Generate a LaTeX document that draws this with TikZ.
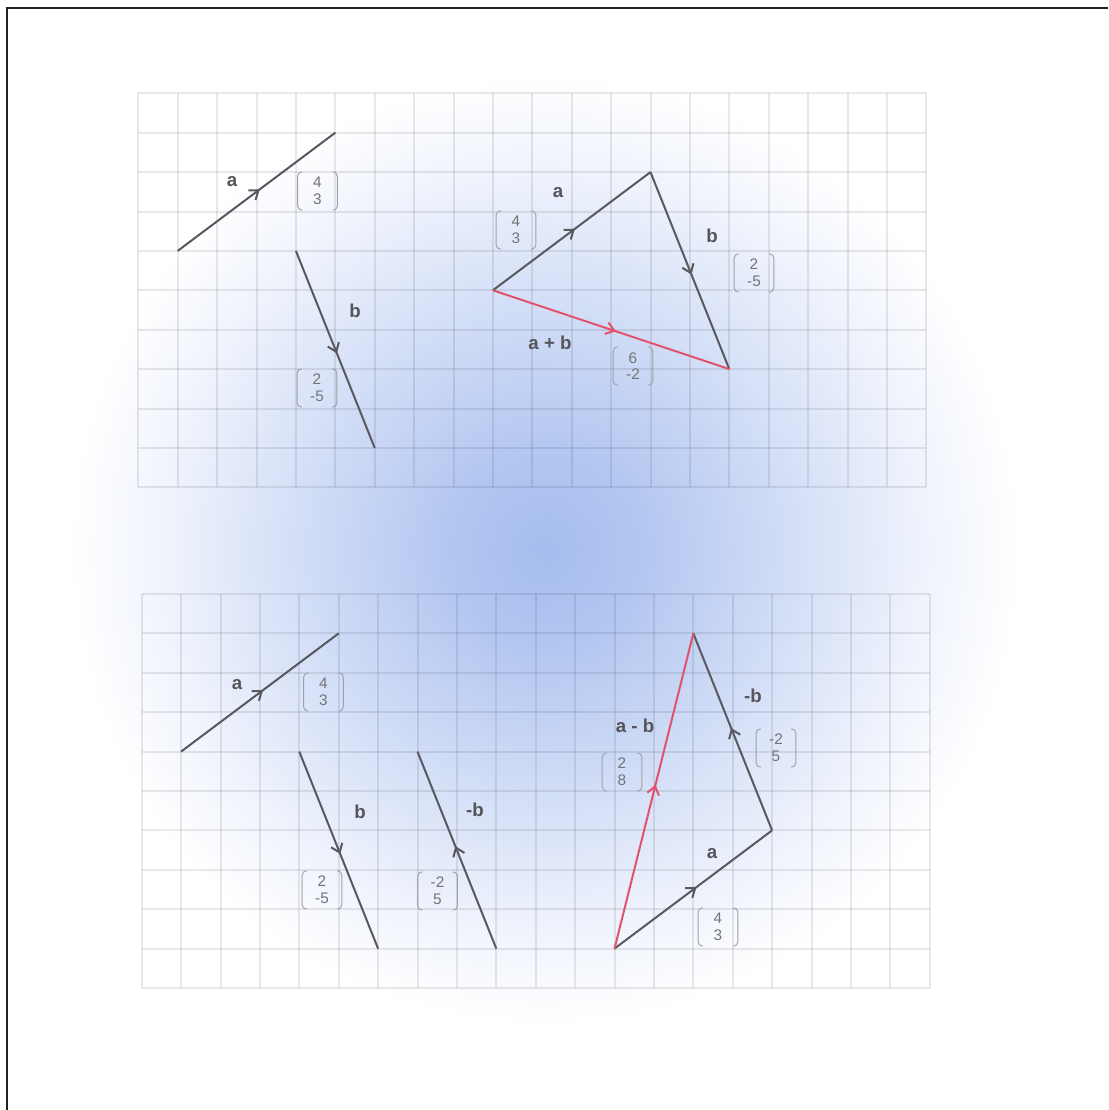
\documentclass[tikz,border=0pt]{standalone}
\usepackage{fontspec}
\setmainfont{Liberation Sans}
\usetikzlibrary{arrows.meta,decorations.markings}
\definecolor{glowc}{RGB}{165,188,238}
\definecolor{vecgray}{RGB}{88,88,94}
\definecolor{vecred}{RGB}{226,82,108}
\definecolor{labc}{RGB}{85,85,90}
\definecolor{numc}{RGB}{115,115,120}
\definecolor{parc}{RGB}{160,160,166}
\definecolor{framec}{RGB}{34,34,34}
\pgfdeclareradialshading{glow}{\pgfpoint{0bp}{0bp}}{color(0bp)=(glowc); color(5bp)=(glowc!85!white); color(10bp)=(glowc!62!white); color(15bp)=(glowc!40!white); color(20bp)=(glowc!18!white); color(25bp)=(white); color(50bp)=(white)}
\newcommand\colvec[4]{%
  \node[cvec] (#1) at (#2) {#3\\#4};
  \draw[paren] ([xshift=3.5pt]#1.north west) -- (#1.north west) -- (#1.south west) -- ([xshift=3.5pt]#1.south west);
  \draw[paren] ([xshift=-3.5pt]#1.north east) -- (#1.north east) -- (#1.south east) -- ([xshift=-3.5pt]#1.south east);
}
\tikzset{
  gridline/.style={draw=black, draw opacity=0.085, line width=1.5pt},
  vecline/.style={draw=vecgray, line width=1.5pt, postaction={decorate},
    decoration={markings, mark=at position 0.52 with {\arrow{Straight Barb[length=6pt,width=9pt]}}}},
  redvec/.style={vecline, draw=vecred},
  lab/.style={font=\bfseries\fontsize{14}{16}\selectfont, text=labc, inner sep=0pt},
  cvec/.style={font=\fontsize{11.5}{12.5}\selectfont, text=numc, align=center, inner sep=0pt, minimum width=29.5pt, minimum height=28.5pt},
  paren/.style={draw=parc, line width=0.7pt, rounded corners=3.5pt},
}
\begin{document}
\begin{tikzpicture}[x=0.75pt,y=-0.75pt]
\useasboundingbox (0,0) rectangle (1108,1110);
\fill[white] (0,0) rectangle (1108,1110);
\shade[shading=glow] (545,550) ellipse [x radius=475, y radius=475];
% grid 1
\begin{scope}[shift={(138.3,93.3)}]
\begin{scope}[x=29.55pt,y=-29.55pt]
\foreach \i in {0,...,20} \draw[gridline] (\i,0) -- (\i,10);
\foreach \j in {0,...,10} \draw[gridline] (0,\j) -- (20,\j);
\coordinate (A1s) at (1,4); \coordinate (A1e) at (5,1);
\coordinate (B1s) at (4,4); \coordinate (B1e) at (6,9);
\coordinate (P) at (9,5); \coordinate (Q) at (13,2); \coordinate (R) at (15,7);
\draw[vecline] (A1s) -- (A1e);
\draw[vecline] (B1s) -- (B1e);
\draw[vecline] (P) -- (Q);
\draw[vecline] (Q) -- (R);
\draw[redvec] (P) -- (R);
\end{scope}
\end{scope}
% grid 2
\begin{scope}[shift={(141.7,594)}]
\begin{scope}[x=29.55pt,y=-29.55pt]
\foreach \i in {0,...,20} \draw[gridline] (\i,0) -- (\i,10);
\foreach \j in {0,...,10} \draw[gridline] (0,\j) -- (20,\j);
\coordinate (A2s) at (1,4); \coordinate (A2e) at (5,1);
\coordinate (B2s) at (4,4); \coordinate (B2e) at (6,9);
\coordinate (N2s) at (9,9); \coordinate (N2e) at (7,4);
\coordinate (S) at (12,9); \coordinate (T) at (16,6); \coordinate (U) at (14,1);
\draw[vecline] (A2s) -- (A2e);
\draw[vecline] (B2s) -- (B2e);
\draw[vecline] (N2s) -- (N2e);
\draw[vecline] (S) -- (T);
\draw[vecline] (T) -- (U);
\draw[redvec] (S) -- (U);
\end{scope}
\end{scope}
% labels grid 1
\node[lab] (la1) at (232,182) {a};
\colvec{cv1}{317.5,191}{4}{3}
\node[lab] (lb1) at (355,311) {b};
\colvec{cv2}{317,388}{2}{-5}
\node[lab] (la2) at (558,193) {a};
\colvec{cv3}{516,230}{4}{3}
\node[lab] (lb2) at (712,236) {b};
\colvec{cv4}{754,273}{2}{-5}
\node[lab] (lab1) at (550,343) {a + b};
\colvec{cv5}{633,366}{6}{-2}
% labels grid 2
\node[lab] (la3) at (237,685) {a};
\colvec{cv6}{323.5,692}{4}{3}
\node[lab] (lb3) at (360,812) {b};
\colvec{cv7}{322,890}{2}{-5}
\node[lab] (lnb1) at (475,810) {-b};
\colvec{cv8}{437.5,891}{-2}{5}
\node[lab] (lnb2) at (753,696) {-b};
\colvec{cv9}{776,748}{-2}{5}
\node[lab] (lamb) at (635,726) {a - b};
\colvec{cv10}{622,772}{2}{8}
\node[lab] (la4) at (712,854) {a};
\colvec{cv11}{718,927}{4}{3}
% frame
\draw[framec, line width=2.2pt] (7,1110) -- (7,8) -- (1108,8);
\end{tikzpicture}
\end{document}
